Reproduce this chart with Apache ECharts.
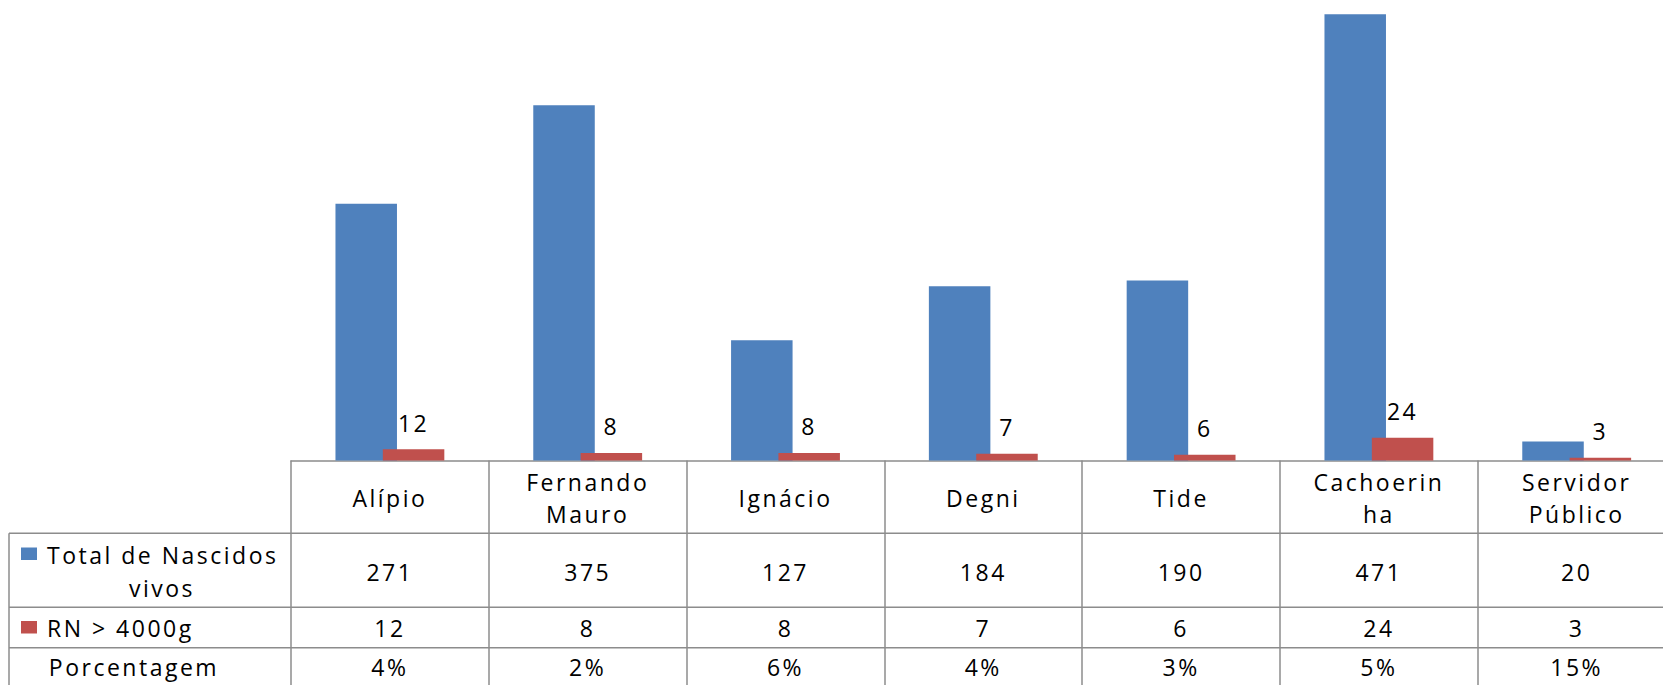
<!DOCTYPE html>
<html>
<head>
<meta charset="utf-8">
<script src="https://cdn.jsdelivr.net/npm/echarts@6/dist/echarts.min.js"></script>
<style>
    html, body { margin: 0; padding: 0; background: #fff; }
    #chart { width: 1663px; height: 685px; }
    /* the original table text is spaced out, svg text takes css letter-spacing */
    #chart text { letter-spacing: 2.5px; }
</style>
</head>
<body>
<div id="chart"></div>
<script>
var categories = ['Alípio', 'Fernando\nMauro', 'Ignácio', 'Degni', 'Tide', 'Cachoerin\nha', 'Servidor\nPúblico'];
var totalNascidos = [271, 375, 127, 184, 190, 471, 20];
var rnAcima4000 = [12, 8, 8, 7, 6, 24, 3];
var porcentagem = [4, 2, 6, 4, 3, 5, 15];
var rowNames = ['Total de Nascidos', 'vivos', 'RN > 4000g', 'Porcentagem'];

var FONT = 'Open Sans';
var LINE = '#8c8c8c';
var BLUE = '#4F81BD';
var RED = '#C0504D';

// all grids share the same rect, extra grids only carry the table rows
var gridRect = { left: 291, top: 0, width: 1384.6, height: 460.5, outerBoundsMode: 'none', containLabel: false };

function tableAxis(gridIndex, margin, values, suffix) {
    return {
        type: 'category',
        gridIndex: gridIndex,
        data: categories,
        axisLine: { show: false },
        axisTick: { show: false },
        axisLabel: {
            interval: 0,
            margin: margin,
            verticalAlign: 'middle',
            fontFamily: FONT,
            fontSize: 23,
            color: '#000',
            formatter: function (v, i) { return values[i] + (suffix || ''); }
        }
    };
}

function hLine(y) {
    return { type: 'line', shape: { x1: 9, y1: y, x2: 1663, y2: y }, style: { stroke: LINE, lineWidth: 1.5 } };
}

function rowText(text, x, y, align) {
    return {
        type: 'text', x: x, y: y,
        style: { text: text, fill: '#000', font: '23px "' + FONT + '"', align: align, verticalAlign: 'middle' }
    };
}

var chart = echarts.init(document.getElementById('chart'), null, { renderer: 'svg' });

var option = {
    animation: false,
    grid: [gridRect, gridRect, gridRect, gridRect],
    xAxis: [
        {
            type: 'category',
            gridIndex: 0,
            data: categories,
            axisLine: { lineStyle: { color: LINE, width: 1.5 } },
            axisTick: { show: true, interval: 0, length: 225, lineStyle: { color: LINE, width: 1.5 } },
            axisLabel: {
                interval: 0,
                margin: 37,
                verticalAlign: 'middle',
                lineHeight: 32,
                fontFamily: FONT,
                fontSize: 23,
                color: '#000'
            }
        },
        tableAxis(1, 111, totalNascidos),
        tableAxis(2, 167.5, rnAcima4000),
        tableAxis(3, 206.5, porcentagem, '%')
    ],
    yAxis: [
        { type: 'value', gridIndex: 0, min: 0, max: 486, show: false },
        { type: 'value', gridIndex: 1, min: 0, max: 1, show: false },
        { type: 'value', gridIndex: 2, min: 0, max: 1, show: false },
        { type: 'value', gridIndex: 3, min: 0, max: 1, show: false }
    ],
    series: [
        {
            name: 'Total de Nascidos vivos',
            type: 'bar',
            xAxisIndex: 0,
            yAxisIndex: 0,
            data: totalNascidos,
            barWidth: 61.5,
            barGap: '-23%',
            itemStyle: { color: BLUE }
        },
        {
            name: 'RN > 4000g',
            type: 'bar',
            xAxisIndex: 0,
            yAxisIndex: 0,
            data: rnAcima4000,
            barWidth: 61.5,
            barGap: '-23%',
            itemStyle: { color: RED },
            label: {
                show: true,
                position: 'top',
                distance: 15,
                fontFamily: FONT,
                fontSize: 23,
                color: '#000'
            }
        }
    ],
    graphic: [
        hLine(533.3),
        hLine(607.3),
        hLine(647.7),
        { type: 'line', shape: { x1: 9, y1: 533.3, x2: 9, y2: 685 }, style: { stroke: LINE, lineWidth: 1.5 } },
        { type: 'rect', shape: { x: 21, y: 547.5, width: 16, height: 12.5 }, style: { fill: BLUE } },
        { type: 'rect', shape: { x: 21, y: 621, width: 16, height: 12.5 }, style: { fill: RED } },
        rowText(rowNames[0], 47, 555, 'left'),
        rowText(rowNames[1], 162, 588, 'center'),
        rowText(rowNames[2], 47, 628, 'left'),
        rowText(rowNames[3], 134, 667, 'center')
    ]
};

chart.setOption(option);
</script>
</body>
</html>
